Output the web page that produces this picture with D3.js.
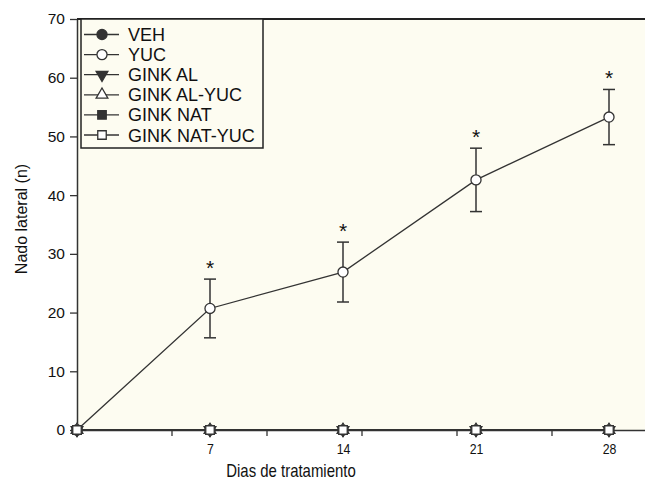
<!DOCTYPE html>
<html>
<head>
<meta charset="utf-8">
<script src="https://cdn.jsdelivr.net/npm/d3@7"></script>
<style>
  body { margin: 0; background: #fff; }
  svg { font-family: "Liberation Sans", Arial, sans-serif; }
</style>
</head>
<body>
<svg id="chart"></svg>
<script>
// Data
const days = [0, 7, 14, 21, 28];
const groups = ["VEH", "YUC", "GINK AL", "GINK AL-YUC", "GINK NAT", "GINK NAT-YUC"];
const vehMean = [0, 0, 0, 0, 0];
const yucMean = [0, 20.7, 26.9, 42.6, 53.3];
const yucErr = [0, 5.0, 5.1, 5.4, 4.7];
const ginkAlMean = [0, 0, 0, 0, 0];
const ginkAlYucMean = [0, 0, 0, 0, 0];
const ginkNatMean = [0, 0, 0, 0, 0];
const ginkNatYucMean = [0, 0, 0, 0, 0];
const significant = [false, true, true, true, true];
const xTicks = [7, 14, 21, 28];
const xMinorTicks = [5, 10, 15, 20, 25];
const yTicks = [0, 10, 20, 30, 40, 50, 60, 70];

const width = 645, height = 481;
const margin = {top: 19, right: 0, bottom: 51, left: 77};

const svg = d3.select("#chart")
    .attr("width", width)
    .attr("height", height);

const x = d3.scaleLinear().domain([0, 30]).range([margin.left, margin.left + 30 * 19]);
const y = d3.scaleLinear().domain([0, 70]).range([height - margin.bottom, margin.top]);

const ink = "#333";

// plot background
svg.append("rect")
    .attr("x", x(0)).attr("y", y(70))
    .attr("width", width - x(0)).attr("height", y(0) - y(70))
    .attr("fill", "#fdfcf1");

// series definitions (marker symbol + fill)
const series = [
    {name: groups[0], mean: vehMean, sym: d3.symbolCircle, fill: ink},
    {name: groups[1], mean: yucMean, err: yucErr, sym: d3.symbolCircle, fill: "#fff"},
    {name: groups[2], mean: ginkAlMean, sym: d3.symbolTriangle, fill: ink, rot: 180},
    {name: groups[3], mean: ginkAlYucMean, sym: d3.symbolTriangle, fill: "#fff"},
    {name: groups[4], mean: ginkNatMean, sym: d3.symbolSquare, fill: ink},
    {name: groups[5], mean: ginkNatYucMean, sym: d3.symbolSquare, fill: "#fff"}
];
function symPath(s) {
    return d3.symbol().type(s.sym).size(s.sym === d3.symbolCircle ? 80 : s.sym === d3.symbolTriangle ? 60 : 72)();
}

// axes
const yAxis = svg.append("g")
    .attr("transform", `translate(${x(0)},0)`)
    .call(d3.axisLeft(y).tickValues(yTicks).tickSize(7).tickSizeOuter(0).tickPadding(5));
yAxis.select(".domain").attr("stroke", ink).attr("stroke-width", 1.5);
yAxis.selectAll(".tick line").attr("stroke", ink).attr("stroke-width", 1.3);
yAxis.selectAll(".tick text").attr("font-size", 15.5).attr("fill", "#111")
    .attr("font-family", "Liberation Sans, Arial, sans-serif");

const xAxis = svg.append("g")
    .attr("transform", `translate(0,${y(0)})`)
    .call(d3.axisBottom(x).tickValues(xTicks).tickSize(0).tickSizeOuter(0).tickPadding(0));
xAxis.select(".domain").attr("stroke", ink).attr("stroke-width", 1.5);
xAxis.selectAll(".tick text")
    .attr("dy", null).attr("y", 0)
    .attr("transform", "translate(0,24) scale(0.88,1)")
    .attr("font-size", 14).attr("fill", "#111")
    .attr("font-family", "Liberation Sans, Arial, sans-serif");

svg.append("g")
    .selectAll("line")
    .data(xMinorTicks)
    .join("line")
    .attr("x1", d => x(d)).attr("x2", d => x(d))
    .attr("y1", y(0)).attr("y2", y(0) + 6)
    .attr("stroke", ink).attr("stroke-width", 1.3);

// small stub below origin
svg.append("line")
    .attr("x1", x(0)).attr("x2", x(0))
    .attr("y1", y(0)).attr("y2", y(0) + 5)
    .attr("stroke", ink).attr("stroke-width", 1.5);

// top frame line
svg.append("line")
    .attr("x1", x(0)).attr("x2", width)
    .attr("y1", y(70)).attr("y2", y(70))
    .attr("stroke", "#222").attr("stroke-width", 2);

// axis titles
svg.append("text")
    .attr("transform", "translate(291,477) scale(0.83,1)")
    .attr("text-anchor", "middle")
    .attr("font-size", 18).attr("fill", "#111")
    .text("Dias de tratamiento");

svg.append("text")
    .attr("transform", "translate(27,219) rotate(-90)")
    .attr("text-anchor", "middle")
    .attr("font-size", 16).attr("fill", "#111")
    .text("Nado lateral (n)");

// lines
const line = d3.line().x((d, i) => x(days[i])).y(d => y(d));
series.forEach(s => {
    svg.append("path")
        .datum(s.mean)
        .attr("d", line)
        .attr("fill", "none")
        .attr("stroke", ink)
        .attr("stroke-width", 1.3);
});

// error bars for YUC
const eb = svg.append("g").attr("stroke", ink).attr("stroke-width", 1.5);
days.forEach((d, i) => {
    if (!yucErr[i]) return;
    const cx = x(d), top = y(yucMean[i] + yucErr[i]), bot = y(yucMean[i] - yucErr[i]);
    eb.append("line").attr("x1", cx).attr("x2", cx).attr("y1", top).attr("y2", bot);
    eb.append("line").attr("x1", cx - 6).attr("x2", cx + 6).attr("y1", top).attr("y2", top);
    eb.append("line").attr("x1", cx - 6).attr("x2", cx + 6).attr("y1", bot).attr("y2", bot);
});

// significance stars
svg.append("g")
    .selectAll("text")
    .data(days.filter((d, i) => significant[i]))
    .join("text")
    .attr("x", d => x(d))
    .attr("y", d => y(yucMean[days.indexOf(d)] + yucErr[days.indexOf(d)]) - 4)
    .attr("text-anchor", "middle")
    .attr("font-size", 21).attr("fill", "#111")
    .text("*");

// markers (zero groups: tiny stubs above/below)
svg.append("g")
    .selectAll("line")
    .data(days)
    .join("line")
    .attr("x1", d => x(d)).attr("x2", d => x(d))
    .attr("y1", y(0) - 7).attr("y2", y(0) + 7)
    .attr("stroke", ink).attr("stroke-width", 1.3);

series.forEach(s => {
    svg.append("g")
        .selectAll("path")
        .data(s.mean)
        .join("path")
        .attr("d", symPath(s))
        .attr("transform", (d, i) => `translate(${x(days[i])},${y(d)})` + (s.rot ? ` rotate(${s.rot})` : ""))
        .attr("fill", s.fill)
        .attr("stroke", ink)
        .attr("stroke-width", 1.3);
});

// legend
const legend = svg.append("g");
legend.append("rect")
    .attr("x", 81).attr("y", 19)
    .attr("width", 182).attr("height", 129)
    .attr("fill", "#fdfcf1")
    .attr("stroke", "#222").attr("stroke-width", 1.5);

const rows = legend.selectAll("g.row")
    .data(series)
    .join("g")
    .attr("class", "row")
    .attr("transform", (d, i) => `translate(0,${34.5 + i * 20.1})`);
rows.append("line")
    .attr("x1", 84).attr("x2", 119)
    .attr("stroke", ink).attr("stroke-width", 1.3);
rows.append("path")
    .attr("d", d => symPath(d))
    .attr("transform", d => `translate(102,0)` + (d.rot ? ` rotate(${d.rot})` : ""))
    .attr("fill", d => d.fill)
    .attr("stroke", ink).attr("stroke-width", 1.3);
rows.append("text")
    .attr("x", 128).attr("y", 6.5)
    .attr("font-size", 18).attr("fill", "#111")
    .text(d => d.name);
</script>
</body>
</html>
